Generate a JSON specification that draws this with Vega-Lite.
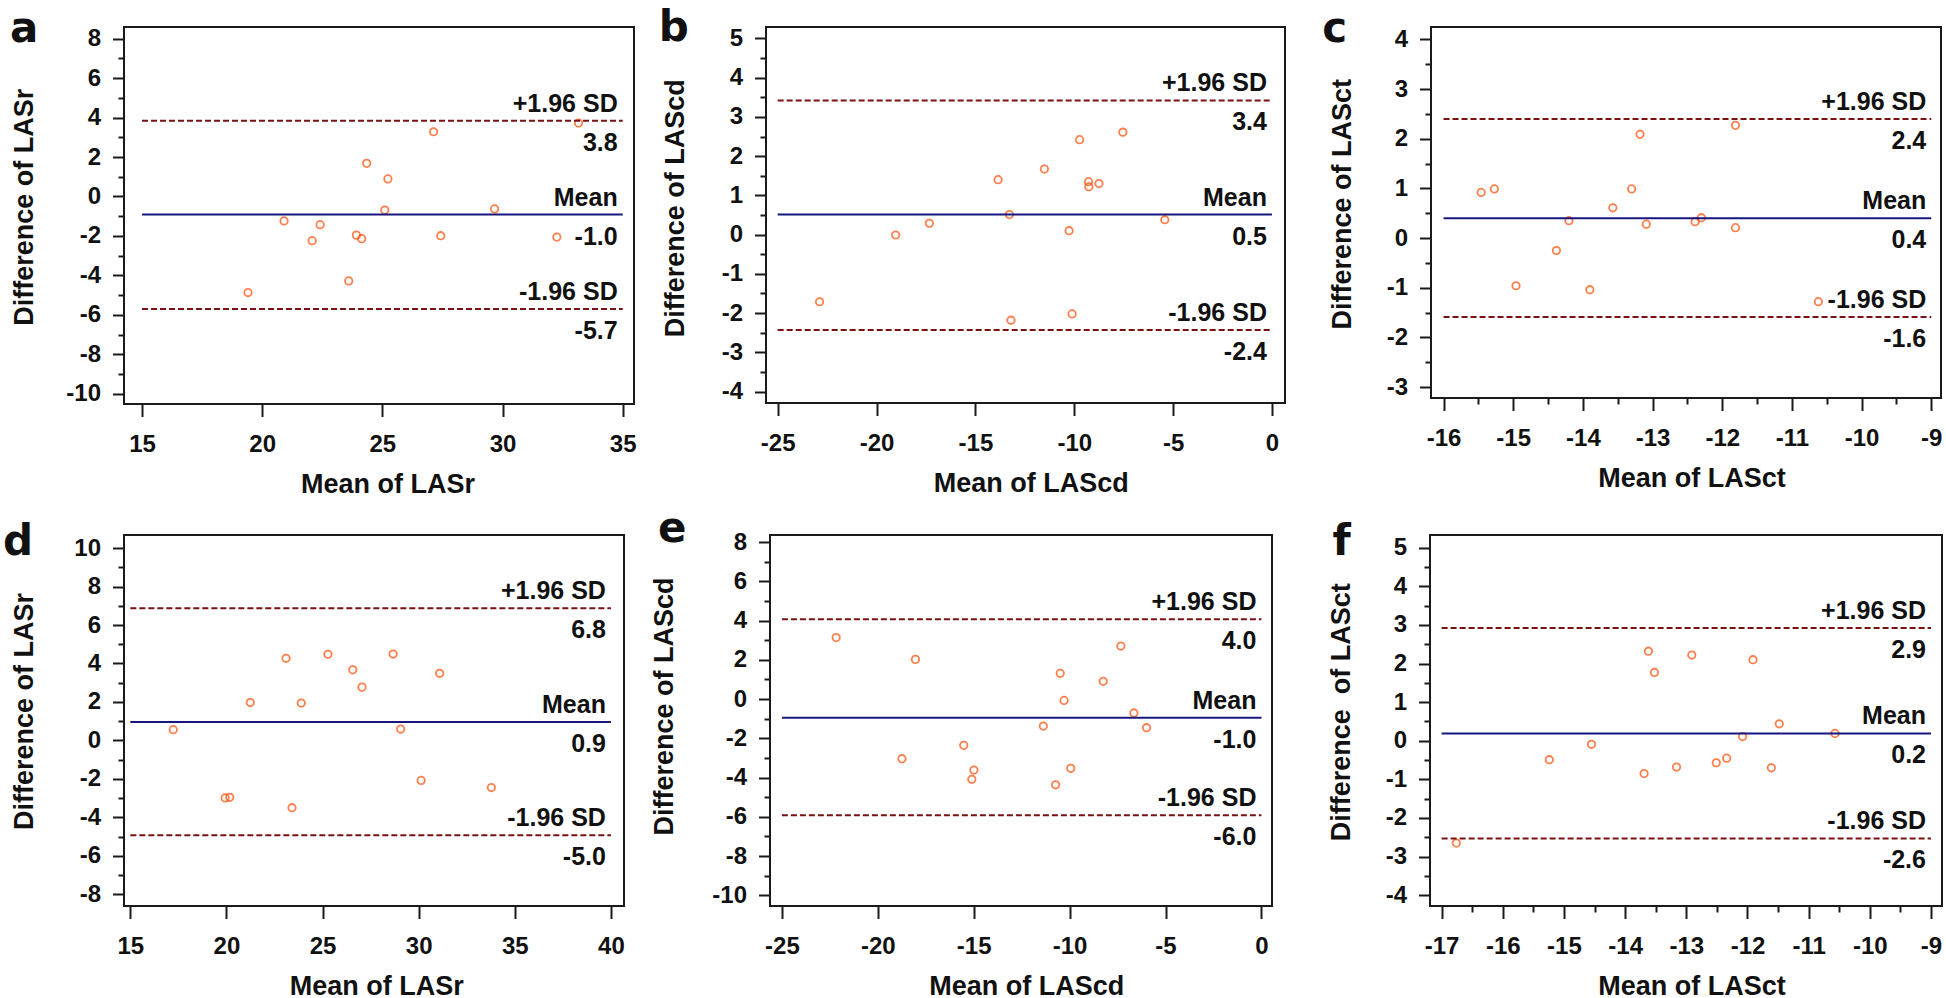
{
  "$schema": "https://vega.github.io/schema/vega-lite/v6.json",
  "background": "white",
  "padding": {"left": 2, "top": 6, "right": 0, "bottom": 0},
  "datasets": {
    "points": [
      {"panel": "a", "mean": 19.41, "diff": -4.87}, {"panel": "a", "mean": 20.91, "diff": -1.24}, {"panel": "a", "mean": 22.08, "diff": -2.24}, {"panel": "a", "mean": 22.41, "diff": -1.43}, {"panel": "a", "mean": 23.60, "diff": -4.28}, {"panel": "a", "mean": 23.92, "diff": -1.96}, {"panel": "a", "mean": 24.14, "diff": -2.14}, {"panel": "a", "mean": 24.35, "diff": 1.68}, {"panel": "a", "mean": 25.10, "diff": -0.69}, {"panel": "a", "mean": 25.23, "diff": 0.89}, {"panel": "a", "mean": 27.13, "diff": 3.28}, {"panel": "a", "mean": 27.43, "diff": -1.99}, {"panel": "a", "mean": 29.67, "diff": -0.63}, {"panel": "a", "mean": 32.26, "diff": -2.06}, {"panel": "a", "mean": 33.16, "diff": 3.72},
      {"panel": "b", "mean": -22.88, "diff": -1.71}, {"panel": "b", "mean": -19.03, "diff": -0.01}, {"panel": "b", "mean": -17.33, "diff": 0.29}, {"panel": "b", "mean": -13.85, "diff": 1.40}, {"panel": "b", "mean": -13.28, "diff": 0.51}, {"panel": "b", "mean": -13.20, "diff": -2.18}, {"panel": "b", "mean": -11.51, "diff": 1.67}, {"panel": "b", "mean": -10.26, "diff": 0.10}, {"panel": "b", "mean": -10.11, "diff": -2.02}, {"panel": "b", "mean": -9.73, "diff": 2.42}, {"panel": "b", "mean": -9.28, "diff": 1.35}, {"panel": "b", "mean": -9.26, "diff": 1.22}, {"panel": "b", "mean": -8.75, "diff": 1.30}, {"panel": "b", "mean": -7.54, "diff": 2.61}, {"panel": "b", "mean": -5.42, "diff": 0.38},
      {"panel": "c", "mean": -15.46, "diff": 0.92}, {"panel": "c", "mean": -15.27, "diff": 0.99}, {"panel": "c", "mean": -14.96, "diff": -0.96}, {"panel": "c", "mean": -14.38, "diff": -0.25}, {"panel": "c", "mean": -14.20, "diff": 0.35}, {"panel": "c", "mean": -13.90, "diff": -1.04}, {"panel": "c", "mean": -13.57, "diff": 0.61}, {"panel": "c", "mean": -13.30, "diff": 0.99}, {"panel": "c", "mean": -13.18, "diff": 2.09}, {"panel": "c", "mean": -13.09, "diff": 0.28}, {"panel": "c", "mean": -12.39, "diff": 0.33}, {"panel": "c", "mean": -12.30, "diff": 0.41}, {"panel": "c", "mean": -11.81, "diff": 2.27}, {"panel": "c", "mean": -11.81, "diff": 0.21}, {"panel": "c", "mean": -10.62, "diff": -1.28},
      {"panel": "d", "mean": 17.23, "diff": 0.56}, {"panel": "d", "mean": 19.93, "diff": -2.99}, {"panel": "d", "mean": 20.17, "diff": -2.96}, {"panel": "d", "mean": 21.24, "diff": 1.97}, {"panel": "d", "mean": 23.10, "diff": 4.27}, {"panel": "d", "mean": 23.41, "diff": -3.50}, {"panel": "d", "mean": 23.89, "diff": 1.94}, {"panel": "d", "mean": 25.28, "diff": 4.48}, {"panel": "d", "mean": 26.57, "diff": 3.67}, {"panel": "d", "mean": 27.05, "diff": 2.77}, {"panel": "d", "mean": 28.67, "diff": 4.49}, {"panel": "d", "mean": 29.06, "diff": 0.59}, {"panel": "d", "mean": 30.13, "diff": -2.08}, {"panel": "d", "mean": 31.09, "diff": 3.49}, {"panel": "d", "mean": 33.78, "diff": -2.45},
      {"panel": "e", "mean": -22.17, "diff": 3.13}, {"panel": "e", "mean": -18.74, "diff": -3.04}, {"panel": "e", "mean": -18.04, "diff": 2.02}, {"panel": "e", "mean": -15.52, "diff": -2.36}, {"panel": "e", "mean": -14.99, "diff": -3.62}, {"panel": "e", "mean": -15.10, "diff": -4.09}, {"panel": "e", "mean": -11.37, "diff": -1.38}, {"panel": "e", "mean": -10.73, "diff": -4.37}, {"panel": "e", "mean": -10.49, "diff": 1.31}, {"panel": "e", "mean": -10.29, "diff": -0.07}, {"panel": "e", "mean": -9.94, "diff": -3.53}, {"panel": "e", "mean": -8.25, "diff": 0.90}, {"panel": "e", "mean": -7.33, "diff": 2.70}, {"panel": "e", "mean": -6.65, "diff": -0.71}, {"panel": "e", "mean": -5.99, "diff": -1.46},
      {"panel": "f", "mean": -16.76, "diff": -2.65}, {"panel": "f", "mean": -15.24, "diff": -0.49}, {"panel": "f", "mean": -14.55, "diff": -0.09}, {"panel": "f", "mean": -13.69, "diff": -0.85}, {"panel": "f", "mean": -13.62, "diff": 2.32}, {"panel": "f", "mean": -13.52, "diff": 1.77}, {"panel": "f", "mean": -13.16, "diff": -0.68}, {"panel": "f", "mean": -12.91, "diff": 2.22}, {"panel": "f", "mean": -12.51, "diff": -0.57}, {"panel": "f", "mean": -12.34, "diff": -0.45}, {"panel": "f", "mean": -12.08, "diff": 0.11}, {"panel": "f", "mean": -11.91, "diff": 2.10}, {"panel": "f", "mean": -11.61, "diff": -0.70}, {"panel": "f", "mean": -11.48, "diff": 0.44}, {"panel": "f", "mean": -10.57, "diff": 0.19}
    ],
    "lines": [
      {"panel": "a", "kind": "upper", "value": 3.84, "x1": 15, "x2": 35, "above": "+1.96 SD", "below": "3.8"},
      {"panel": "a", "kind": "mean", "value": -0.92, "x1": 15, "x2": 35, "above": "Mean", "below": "-1.0"},
      {"panel": "a", "kind": "lower", "value": -5.71, "x1": 15, "x2": 35, "above": "-1.96 SD", "below": "-5.7"},
      {"panel": "b", "kind": "upper", "value": 3.42, "x1": -25, "x2": 0, "above": "+1.96 SD", "below": "3.4"},
      {"panel": "b", "kind": "mean", "value": 0.51, "x1": -25, "x2": 0, "above": "Mean", "below": "0.5"},
      {"panel": "b", "kind": "lower", "value": -2.43, "x1": -25, "x2": 0, "above": "-1.96 SD", "below": "-2.4"},
      {"panel": "c", "kind": "upper", "value": 2.40, "x1": -16, "x2": -9, "above": "+1.96 SD", "below": "2.4"},
      {"panel": "c", "kind": "mean", "value": 0.40, "x1": -16, "x2": -9, "above": "Mean", "below": "0.4"},
      {"panel": "c", "kind": "lower", "value": -1.59, "x1": -16, "x2": -9, "above": "-1.96 SD", "below": "-1.6"},
      {"panel": "d", "kind": "upper", "value": 6.87, "x1": 15, "x2": 40, "above": "+1.96 SD", "below": "6.8"},
      {"panel": "d", "kind": "mean", "value": 0.96, "x1": 15, "x2": 40, "above": "Mean", "below": "0.9"},
      {"panel": "d", "kind": "lower", "value": -4.93, "x1": 15, "x2": 40, "above": "-1.96 SD", "below": "-5.0"},
      {"panel": "e", "kind": "upper", "value": 4.06, "x1": -25, "x2": 0, "above": "+1.96 SD", "below": "4.0"},
      {"panel": "e", "kind": "mean", "value": -0.95, "x1": -25, "x2": 0, "above": "Mean", "below": "-1.0"},
      {"panel": "e", "kind": "lower", "value": -5.92, "x1": -25, "x2": 0, "above": "-1.96 SD", "below": "-6.0"},
      {"panel": "f", "kind": "upper", "value": 2.92, "x1": -17, "x2": -9, "above": "+1.96 SD", "below": "2.9"},
      {"panel": "f", "kind": "mean", "value": 0.19, "x1": -17, "x2": -9, "above": "Mean", "below": "0.2"},
      {"panel": "f", "kind": "lower", "value": -2.53, "x1": -17, "x2": -9, "above": "-1.96 SD", "below": "-2.6"}
    ]
  },
  "vconcat": [
    {
      "hconcat": [
        {
          "width": 510, "height": 377,
          "title": {"text": "a", "dx": 0, "dy": 28},
          "layer": [
            {"data": {"name": "points"}, "transform": [{"filter": "datum.panel === 'a'"}],
             "mark": {"type": "point", "shape": "circle", "filled": false, "size": 55, "strokeWidth": 1.8, "color": "#ff4800"},
             "encoding": {
               "x": {"field": "mean", "type": "quantitative", "scale": {"domain": [14.25, 35.47], "nice": false, "zero": false}, "axis": {"values": [15, 20, 25, 30, 35], "title": "Mean of LASr", "titleX": 263.5}},
               "y": {"field": "diff", "type": "quantitative", "scale": {"domain": [-10.52, 8.59], "nice": false, "zero": false}, "axis": {"values": [-10, -8, -6, -4, -2, 0, 2, 4, 6, 8], "title": "Difference of LASr", "titlePadding": 24, "titleY": 179.7}}
             }},
            {"data": {"name": "lines"}, "transform": [{"filter": "datum.panel === 'a' && datum.kind === 'mean'"}],
             "mark": {"type": "rule", "color": "#16167e", "strokeWidth": 2},
             "encoding": {
               "x": {"field": "x1", "type": "quantitative", "scale": {"domain": [14.25, 35.47], "nice": false, "zero": false}, "axis": null},
               "x2": {"field": "x2"},
               "y": {"field": "value", "type": "quantitative", "scale": {"domain": [-10.52, 8.59], "nice": false, "zero": false}, "axis": {"orient": "left", "values": [-9, -7, -5, -3, -1, 1, 3, 5, 7], "labels": false, "title": null, "tickSize": 6}}
             }},
            {"data": {"name": "lines"}, "transform": [{"filter": "datum.panel === 'a' && datum.kind !== 'mean'"}],
             "mark": {"type": "rule", "color": "#7a1010", "strokeWidth": 2, "strokeDash": [6, 3]},
             "encoding": {
               "x": {"field": "x1", "type": "quantitative", "scale": {"domain": [14.25, 35.47], "nice": false, "zero": false}, "axis": null},
               "x2": {"field": "x2"},
               "y": {"field": "value", "type": "quantitative", "scale": {"domain": [-10.52, 8.59], "nice": false, "zero": false}, "axis": null}
             }},
            {"data": {"name": "lines"}, "transform": [{"filter": "datum.panel === 'a'"}],
             "mark": {"type": "text", "align": "right", "baseline": "alphabetic", "dx": -5, "dy": -9},
             "encoding": {
               "x": {"field": "x2", "type": "quantitative", "scale": {"domain": [14.25, 35.47], "nice": false, "zero": false}, "axis": null},
               "y": {"field": "value", "type": "quantitative", "scale": {"domain": [-10.52, 8.59], "nice": false, "zero": false}, "axis": null},
               "text": {"field": "above"}
             }},
            {"data": {"name": "lines"}, "transform": [{"filter": "datum.panel === 'a'"}],
             "mark": {"type": "text", "align": "right", "baseline": "alphabetic", "dx": -5, "dy": 30},
             "encoding": {
               "x": {"field": "x2", "type": "quantitative", "scale": {"domain": [14.25, 35.47], "nice": false, "zero": false}, "axis": null},
               "y": {"field": "value", "type": "quantitative", "scale": {"domain": [-10.52, 8.59], "nice": false, "zero": false}, "axis": null},
               "text": {"field": "below"}
             }}
          ],
          "resolve": {"axis": {"x": "independent", "y": "independent"}}
        },
        {
          "hconcat": [
            {
              "width": 519, "height": 376,
              "title": {"text": "b", "dx": -3, "dy": 28},
              "layer": [
                {"data": {"name": "points"}, "transform": [{"filter": "datum.panel === 'b'"}],
                 "mark": {"type": "point", "shape": "circle", "filled": false, "size": 55, "strokeWidth": 1.8, "color": "#ff4800"},
                 "encoding": {
                   "x": {"field": "mean", "type": "quantitative", "scale": {"domain": [-25.59, 0.66], "nice": false, "zero": false}, "axis": {"values": [-25, -20, -15, -10, -5, 0], "title": "Mean of LAScd", "titleX": 264.7}},
                   "y": {"field": "diff", "type": "quantitative", "scale": {"domain": [-4.29, 5.29], "nice": false, "zero": false}, "axis": {"values": [-4, -3, -2, -1, 0, 1, 2, 3, 4, 5], "title": "Difference of LAScd", "titlePadding": 14.3, "titleY": 180.7}}
                 }},
                {"data": {"name": "lines"}, "transform": [{"filter": "datum.panel === 'b' && datum.kind === 'mean'"}],
                 "mark": {"type": "rule", "color": "#16167e", "strokeWidth": 2},
                 "encoding": {
                   "x": {"field": "x1", "type": "quantitative", "scale": {"domain": [-25.59, 0.66], "nice": false, "zero": false}, "axis": null},
                   "x2": {"field": "x2"},
                   "y": {"field": "value", "type": "quantitative", "scale": {"domain": [-4.29, 5.29], "nice": false, "zero": false}, "axis": {"orient": "left", "values": [-3.5, -2.5, -1.5, -0.5, 0.5, 1.5, 2.5, 3.5, 4.5], "labels": false, "title": null, "tickSize": 6}}
                 }},
                {"data": {"name": "lines"}, "transform": [{"filter": "datum.panel === 'b' && datum.kind !== 'mean'"}],
                 "mark": {"type": "rule", "color": "#7a1010", "strokeWidth": 2, "strokeDash": [6, 3]},
                 "encoding": {
                   "x": {"field": "x1", "type": "quantitative", "scale": {"domain": [-25.59, 0.66], "nice": false, "zero": false}, "axis": null},
                   "x2": {"field": "x2"},
                   "y": {"field": "value", "type": "quantitative", "scale": {"domain": [-4.29, 5.29], "nice": false, "zero": false}, "axis": null}
                 }},
                {"data": {"name": "lines"}, "transform": [{"filter": "datum.panel === 'b'"}],
                 "mark": {"type": "text", "align": "right", "baseline": "alphabetic", "dx": -5, "dy": -9},
                 "encoding": {
                   "x": {"field": "x2", "type": "quantitative", "scale": {"domain": [-25.59, 0.66], "nice": false, "zero": false}, "axis": null},
                   "y": {"field": "value", "type": "quantitative", "scale": {"domain": [-4.29, 5.29], "nice": false, "zero": false}, "axis": null},
                   "text": {"field": "above"}
                 }},
                {"data": {"name": "lines"}, "transform": [{"filter": "datum.panel === 'b'"}],
                 "mark": {"type": "text", "align": "right", "baseline": "alphabetic", "dx": -5, "dy": 30},
                 "encoding": {
                   "x": {"field": "x2", "type": "quantitative", "scale": {"domain": [-25.59, 0.66], "nice": false, "zero": false}, "axis": null},
                   "y": {"field": "value", "type": "quantitative", "scale": {"domain": [-4.29, 5.29], "nice": false, "zero": false}, "axis": null},
                   "text": {"field": "below"}
                 }}
              ],
              "resolve": {"axis": {"x": "independent", "y": "independent"}}
            },
            {
              "width": 510, "height": 371,
              "title": {"text": "c", "dx": -6, "dy": 28},
              "layer": [
                {"data": {"name": "points"}, "transform": [{"filter": "datum.panel === 'c'"}],
                 "mark": {"type": "point", "shape": "circle", "filled": false, "size": 55, "strokeWidth": 1.8, "color": "#ff4800"},
                 "encoding": {
                   "x": {"field": "mean", "type": "quantitative", "scale": {"domain": [-16.18, -8.86], "nice": false, "zero": false}, "axis": {"values": [-16, -15, -14, -13, -12, -11, -10, -9], "title": "Mean of LASct", "titleX": 260.6}},
                   "y": {"field": "diff", "type": "quantitative", "scale": {"domain": [-3.22, 4.25], "nice": false, "zero": false}, "axis": {"values": [-3, -2, -1, 0, 1, 2, 3, 4], "title": "Difference of LASct", "titlePadding": 12.7, "titleY": 176.7}}
                 }},
                {"data": {"name": "lines"}, "transform": [{"filter": "datum.panel === 'c' && datum.kind === 'mean'"}],
                 "mark": {"type": "rule", "color": "#16167e", "strokeWidth": 2},
                 "encoding": {
                   "x": {"field": "x1", "type": "quantitative", "scale": {"domain": [-16.18, -8.86], "nice": false, "zero": false}, "axis": {"orient": "bottom", "values": [-15.5, -14.5, -13.5, -12.5, -11.5, -10.5, -9.5], "labels": false, "title": null, "tickSize": 6}},
                   "x2": {"field": "x2"},
                   "y": {"field": "value", "type": "quantitative", "scale": {"domain": [-3.22, 4.25], "nice": false, "zero": false}, "axis": {"orient": "left", "values": [-2.5, -1.5, -0.5, 0.5, 1.5, 2.5, 3.5], "labels": false, "title": null, "tickSize": 6}}
                 }},
                {"data": {"name": "lines"}, "transform": [{"filter": "datum.panel === 'c' && datum.kind !== 'mean'"}],
                 "mark": {"type": "rule", "color": "#7a1010", "strokeWidth": 2, "strokeDash": [6, 3]},
                 "encoding": {
                   "x": {"field": "x1", "type": "quantitative", "scale": {"domain": [-16.18, -8.86], "nice": false, "zero": false}, "axis": null},
                   "x2": {"field": "x2"},
                   "y": {"field": "value", "type": "quantitative", "scale": {"domain": [-3.22, 4.25], "nice": false, "zero": false}, "axis": null}
                 }},
                {"data": {"name": "lines"}, "transform": [{"filter": "datum.panel === 'c'"}],
                 "mark": {"type": "text", "align": "right", "baseline": "alphabetic", "dx": -5, "dy": -9},
                 "encoding": {
                   "x": {"field": "x2", "type": "quantitative", "scale": {"domain": [-16.18, -8.86], "nice": false, "zero": false}, "axis": null},
                   "y": {"field": "value", "type": "quantitative", "scale": {"domain": [-3.22, 4.25], "nice": false, "zero": false}, "axis": null},
                   "text": {"field": "above"}
                 }},
                {"data": {"name": "lines"}, "transform": [{"filter": "datum.panel === 'c'"}],
                 "mark": {"type": "text", "align": "right", "baseline": "alphabetic", "dx": -5, "dy": 30},
                 "encoding": {
                   "x": {"field": "x2", "type": "quantitative", "scale": {"domain": [-16.18, -8.86], "nice": false, "zero": false}, "axis": null},
                   "y": {"field": "value", "type": "quantitative", "scale": {"domain": [-3.22, 4.25], "nice": false, "zero": false}, "axis": null},
                   "text": {"field": "below"}
                 }}
              ],
              "resolve": {"axis": {"x": "independent", "y": "independent"}}
            }
          ],
          "spacing": 146,
          "bounds": "flush"
        }
      ],
      "spacing": 132,
      "bounds": "flush"
    },
    {
      "hconcat": [
        {
          "width": 500, "height": 371,
          "title": {"text": "d", "dx": -7, "dy": 33},
          "layer": [
            {"data": {"name": "points"}, "transform": [{"filter": "datum.panel === 'd'"}],
             "mark": {"type": "point", "shape": "circle", "filled": false, "size": 55, "strokeWidth": 1.8, "color": "#ff4800"},
             "encoding": {
               "x": {"field": "mean", "type": "quantitative", "scale": {"domain": [14.67, 40.68], "nice": false, "zero": false}, "axis": {"values": [15, 20, 25, 30, 35, 40], "title": "Mean of LASr", "titleX": 252.2}},
               "y": {"field": "diff", "type": "quantitative", "scale": {"domain": [-8.61, 10.68], "nice": false, "zero": false}, "axis": {"values": [-8, -6, -4, -2, 0, 2, 4, 6, 8, 10], "title": "Difference of LASr", "titlePadding": 24, "titleY": 176}}
             }},
            {"data": {"name": "lines"}, "transform": [{"filter": "datum.panel === 'd' && datum.kind === 'mean'"}],
             "mark": {"type": "rule", "color": "#16167e", "strokeWidth": 2},
             "encoding": {
               "x": {"field": "x1", "type": "quantitative", "scale": {"domain": [14.67, 40.68], "nice": false, "zero": false}, "axis": null},
               "x2": {"field": "x2"},
               "y": {"field": "value", "type": "quantitative", "scale": {"domain": [-8.61, 10.68], "nice": false, "zero": false}, "axis": {"orient": "left", "values": [-7, -5, -3, -1, 1, 3, 5, 7, 9], "labels": false, "title": null, "tickSize": 6}}
             }},
            {"data": {"name": "lines"}, "transform": [{"filter": "datum.panel === 'd' && datum.kind !== 'mean'"}],
             "mark": {"type": "rule", "color": "#7a1010", "strokeWidth": 2, "strokeDash": [6, 3]},
             "encoding": {
               "x": {"field": "x1", "type": "quantitative", "scale": {"domain": [14.67, 40.68], "nice": false, "zero": false}, "axis": null},
               "x2": {"field": "x2"},
               "y": {"field": "value", "type": "quantitative", "scale": {"domain": [-8.61, 10.68], "nice": false, "zero": false}, "axis": null}
             }},
            {"data": {"name": "lines"}, "transform": [{"filter": "datum.panel === 'd'"}],
             "mark": {"type": "text", "align": "right", "baseline": "alphabetic", "dx": -5, "dy": -9},
             "encoding": {
               "x": {"field": "x2", "type": "quantitative", "scale": {"domain": [14.67, 40.68], "nice": false, "zero": false}, "axis": null},
               "y": {"field": "value", "type": "quantitative", "scale": {"domain": [-8.61, 10.68], "nice": false, "zero": false}, "axis": null},
               "text": {"field": "above"}
             }},
            {"data": {"name": "lines"}, "transform": [{"filter": "datum.panel === 'd'"}],
             "mark": {"type": "text", "align": "right", "baseline": "alphabetic", "dx": -5, "dy": 30},
             "encoding": {
               "x": {"field": "x2", "type": "quantitative", "scale": {"domain": [14.67, 40.68], "nice": false, "zero": false}, "axis": null},
               "y": {"field": "value", "type": "quantitative", "scale": {"domain": [-8.61, 10.68], "nice": false, "zero": false}, "axis": null},
               "text": {"field": "below"}
             }}
          ],
          "resolve": {"axis": {"x": "independent", "y": "independent"}}
        },
        {
          "hconcat": [
            {
              "width": 502, "height": 371,
              "title": {"text": "e", "dx": 7, "dy": 25},
              "layer": [
                {"data": {"name": "points"}, "transform": [{"filter": "datum.panel === 'e'"}],
                 "mark": {"type": "point", "shape": "circle", "filled": false, "size": 55, "strokeWidth": 1.8, "color": "#ff4800"},
                 "encoding": {
                   "x": {"field": "mean", "type": "quantitative", "scale": {"domain": [-25.62, 0.55], "nice": false, "zero": false}, "axis": {"values": [-25, -20, -15, -10, -5, 0], "title": "Mean of LAScd", "titleX": 256.2}},
                   "y": {"field": "diff", "type": "quantitative", "scale": {"domain": [-10.545, 8.357], "nice": false, "zero": false}, "axis": {"values": [-10, -8, -6, -4, -2, 0, 2, 4, 6, 8], "title": "Difference of LAScd", "titlePadding": 29.1, "titleY": 171}}
                 }},
                {"data": {"name": "lines"}, "transform": [{"filter": "datum.panel === 'e' && datum.kind === 'mean'"}],
                 "mark": {"type": "rule", "color": "#16167e", "strokeWidth": 2},
                 "encoding": {
                   "x": {"field": "x1", "type": "quantitative", "scale": {"domain": [-25.62, 0.55], "nice": false, "zero": false}, "axis": null},
                   "x2": {"field": "x2"},
                   "y": {"field": "value", "type": "quantitative", "scale": {"domain": [-10.545, 8.357], "nice": false, "zero": false}, "axis": {"orient": "left", "values": [-9, -7, -5, -3, -1, 1, 3, 5, 7], "labels": false, "title": null, "tickSize": 6}}
                 }},
                {"data": {"name": "lines"}, "transform": [{"filter": "datum.panel === 'e' && datum.kind !== 'mean'"}],
                 "mark": {"type": "rule", "color": "#7a1010", "strokeWidth": 2, "strokeDash": [6, 3]},
                 "encoding": {
                   "x": {"field": "x1", "type": "quantitative", "scale": {"domain": [-25.62, 0.55], "nice": false, "zero": false}, "axis": null},
                   "x2": {"field": "x2"},
                   "y": {"field": "value", "type": "quantitative", "scale": {"domain": [-10.545, 8.357], "nice": false, "zero": false}, "axis": null}
                 }},
                {"data": {"name": "lines"}, "transform": [{"filter": "datum.panel === 'e'"}],
                 "mark": {"type": "text", "align": "right", "baseline": "alphabetic", "dx": -5, "dy": -9},
                 "encoding": {
                   "x": {"field": "x2", "type": "quantitative", "scale": {"domain": [-25.62, 0.55], "nice": false, "zero": false}, "axis": null},
                   "y": {"field": "value", "type": "quantitative", "scale": {"domain": [-10.545, 8.357], "nice": false, "zero": false}, "axis": null},
                   "text": {"field": "above"}
                 }},
                {"data": {"name": "lines"}, "transform": [{"filter": "datum.panel === 'e'"}],
                 "mark": {"type": "text", "align": "right", "baseline": "alphabetic", "dx": -5, "dy": 30},
                 "encoding": {
                   "x": {"field": "x2", "type": "quantitative", "scale": {"domain": [-25.62, 0.55], "nice": false, "zero": false}, "axis": null},
                   "y": {"field": "value", "type": "quantitative", "scale": {"domain": [-10.545, 8.357], "nice": false, "zero": false}, "axis": null},
                   "text": {"field": "below"}
                 }}
              ],
              "resolve": {"axis": {"x": "independent", "y": "independent"}}
            },
            {
              "width": 512, "height": 371,
              "title": {"text": "f", "dx": 5, "dy": 33},
              "layer": [
                {"data": {"name": "points"}, "transform": [{"filter": "datum.panel === 'f'"}],
                 "mark": {"type": "point", "shape": "circle", "filled": false, "size": 55, "strokeWidth": 1.8, "color": "#ff4800"},
                 "encoding": {
                   "x": {"field": "mean", "type": "quantitative", "scale": {"domain": [-17.19, -8.82], "nice": false, "zero": false}, "axis": {"values": [-17, -16, -15, -14, -13, -12, -11, -10, -9], "title": "Mean of LASct", "titleX": 261.6}},
                   "y": {"field": "diff", "type": "quantitative", "scale": {"domain": [-4.28, 5.33], "nice": false, "zero": false}, "axis": {"values": [-4, -3, -2, -1, 0, 1, 2, 3, 4, 5], "title": "Difference \u00a0of LASct", "titlePadding": 12.6, "titleY": 176.8}}
                 }},
                {"data": {"name": "lines"}, "transform": [{"filter": "datum.panel === 'f' && datum.kind === 'mean'"}],
                 "mark": {"type": "rule", "color": "#16167e", "strokeWidth": 2},
                 "encoding": {
                   "x": {"field": "x1", "type": "quantitative", "scale": {"domain": [-17.19, -8.82], "nice": false, "zero": false}, "axis": {"orient": "bottom", "values": [-16.5, -15.5, -14.5, -13.5, -12.5, -11.5, -10.5, -9.5], "labels": false, "title": null, "tickSize": 6}},
                   "x2": {"field": "x2"},
                   "y": {"field": "value", "type": "quantitative", "scale": {"domain": [-4.28, 5.33], "nice": false, "zero": false}, "axis": {"orient": "left", "values": [-3.5, -2.5, -1.5, -0.5, 0.5, 1.5, 2.5, 3.5, 4.5], "labels": false, "title": null, "tickSize": 6}}
                 }},
                {"data": {"name": "lines"}, "transform": [{"filter": "datum.panel === 'f' && datum.kind !== 'mean'"}],
                 "mark": {"type": "rule", "color": "#7a1010", "strokeWidth": 2, "strokeDash": [6, 3]},
                 "encoding": {
                   "x": {"field": "x1", "type": "quantitative", "scale": {"domain": [-17.19, -8.82], "nice": false, "zero": false}, "axis": null},
                   "x2": {"field": "x2"},
                   "y": {"field": "value", "type": "quantitative", "scale": {"domain": [-4.28, 5.33], "nice": false, "zero": false}, "axis": null}
                 }},
                {"data": {"name": "lines"}, "transform": [{"filter": "datum.panel === 'f'"}],
                 "mark": {"type": "text", "align": "right", "baseline": "alphabetic", "dx": -5, "dy": -9},
                 "encoding": {
                   "x": {"field": "x2", "type": "quantitative", "scale": {"domain": [-17.19, -8.82], "nice": false, "zero": false}, "axis": null},
                   "y": {"field": "value", "type": "quantitative", "scale": {"domain": [-4.28, 5.33], "nice": false, "zero": false}, "axis": null},
                   "text": {"field": "above"}
                 }},
                {"data": {"name": "lines"}, "transform": [{"filter": "datum.panel === 'f'"}],
                 "mark": {"type": "text", "align": "right", "baseline": "alphabetic", "dx": -5, "dy": 30},
                 "encoding": {
                   "x": {"field": "x2", "type": "quantitative", "scale": {"domain": [-17.19, -8.82], "nice": false, "zero": false}, "axis": null},
                   "y": {"field": "value", "type": "quantitative", "scale": {"domain": [-4.28, 5.33], "nice": false, "zero": false}, "axis": null},
                   "text": {"field": "below"}
                 }}
              ],
              "resolve": {"axis": {"x": "independent", "y": "independent"}}
            }
          ],
          "spacing": 158,
          "bounds": "flush"
        }
      ],
      "spacing": 146,
      "bounds": "flush"
    }
  ],
  "spacing": 508,
  "bounds": "flush",
  "config": {
    "view": {"stroke": "#1a1a1a", "strokeWidth": 2},
    "title": {"anchor": "start", "frame": "bounds", "orient": "top", "offset": 0, "baseline": "top", "font": "DejaVu Sans", "fontSize": 42, "fontWeight": "bold", "color": "#111111"},
    "axis": {"grid": false, "domain": false, "tickColor": "#1a1a1a", "tickWidth": 2, "labelFont": "Liberation Sans", "labelFontSize": 24, "labelFontWeight": "bold", "labelColor": "#111111", "titleFont": "Liberation Sans", "titleFontSize": 27, "titleFontWeight": "bold", "titleColor": "#111111", "labelOverlap": false, "labelFlush": false, "labelExpr": "'' + datum.value"},
    "axisX": {"tickSize": 12.5, "labelPadding": 16, "minExtent": 52, "maxExtent": 52, "titlePadding": 15},
    "axisY": {"tickSize": 11.5, "labelPadding": 12, "minExtent": 62, "maxExtent": 62},
    "text": {"font": "Liberation Sans", "fontSize": 25, "fontWeight": "bold", "color": "#111111"}
  }
}
